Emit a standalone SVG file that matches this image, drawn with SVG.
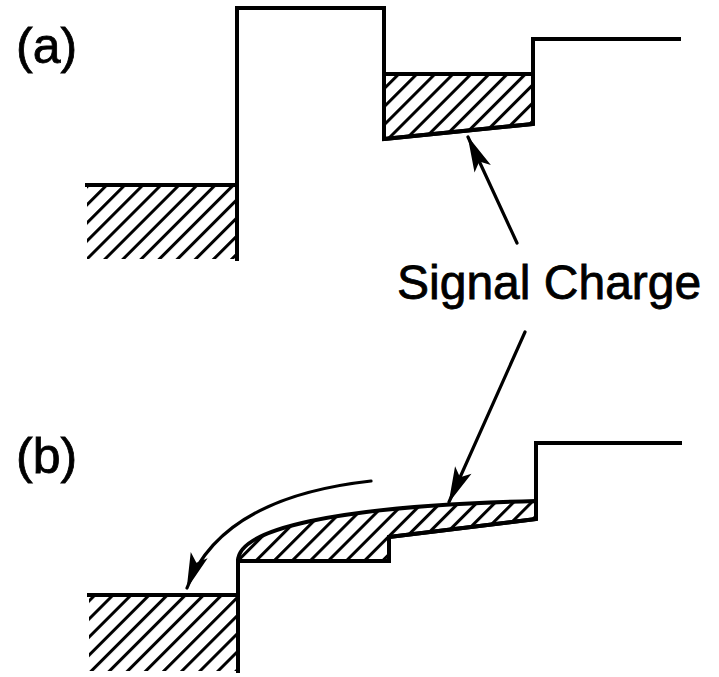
<svg xmlns="http://www.w3.org/2000/svg" width="719" height="677" viewBox="0 0 719 677">
  <style>
    .line { fill: none; stroke: #000; stroke-width: 4; stroke-linejoin: miter; stroke-linecap: square; }
    .hatch { fill: url(#hatch); stroke: none; }
    .charge { fill: url(#hatch); stroke: #000; stroke-width: 4; stroke-linejoin: round; }
    .label { font-family: "Liberation Sans", Arial, Helvetica, sans-serif; fill: #000; stroke: #000; stroke-width: 0.8; }
    .conn { fill: none; stroke: #000; stroke-width: 3.2; stroke-linecap: round; }
  </style>
  <defs>
    <pattern id="hatch" patternUnits="userSpaceOnUse" width="12.8" height="12.8" patternTransform="rotate(45)">
      <rect x="0" y="0" width="3" height="12.8" fill="#000"/>
    </pattern>
    <marker id="arrow" markerUnits="userSpaceOnUse" markerWidth="44" markerHeight="24" viewBox="-38 -12 42 24" refX="0" refY="0" orient="auto">
      <path d="M1,0 L-35,-9 L-27,0 L-35,9 Z" fill="#000"/>
    </marker>
  </defs>
  <rect x="0" y="0" width="719" height="677" fill="#fff"/>

  <!-- (a) -->
  <g id="label-a">
    <text class="label" x="16" y="63" font-size="50">(a)</text>
  </g>
  <g id="reservoir-a">
    <rect class="hatch" x="87" y="185" width="150" height="74"/>
    <path class="line" d="M87,185 L237,185"/>
  </g>
  <g id="charge-a">
    <path class="charge" d="M384,74 L533,74 L533,124 L384,139 Z"/>
  </g>
  <g id="potential-a">
    <path class="line" d="M237,259 L237,8 L384,8 L384,139 L533,124 L533,39 L679,39"/>
  </g>

  <!-- (b) -->
  <g id="label-b">
    <text class="label" x="16" y="473" font-size="50">(b)</text>
  </g>
  <g id="reservoir-b">
    <rect class="hatch" x="89" y="595" width="149" height="76"/>
    <path class="line" d="M89,595 L238,595"/>
  </g>
  <g id="charge-b">
    <path class="charge" d="M238,561 C238,530 330,506 536,501 L536,519 L389,537 L389,561 Z"/>
  </g>
  <g id="potential-b">
    <path class="line" d="M238,671 L238,561 L389,561 L389,537 L536,519 L536,443 L680,443"/>
  </g>

  <g id="signal-charge-label">
    <text class="label" x="397" y="299" font-size="48">Signal Charge</text>
  </g>

  <g id="connectors">
    <path class="conn" d="M517,243 L468,137" marker-end="url(#arrow)"/>
    <path class="conn" d="M525,332 L449,502" marker-end="url(#arrow)"/>
    <path class="conn" d="M371,481 C290,490 213,518 187,588" marker-end="url(#arrow)"/>
  </g>
</svg>
